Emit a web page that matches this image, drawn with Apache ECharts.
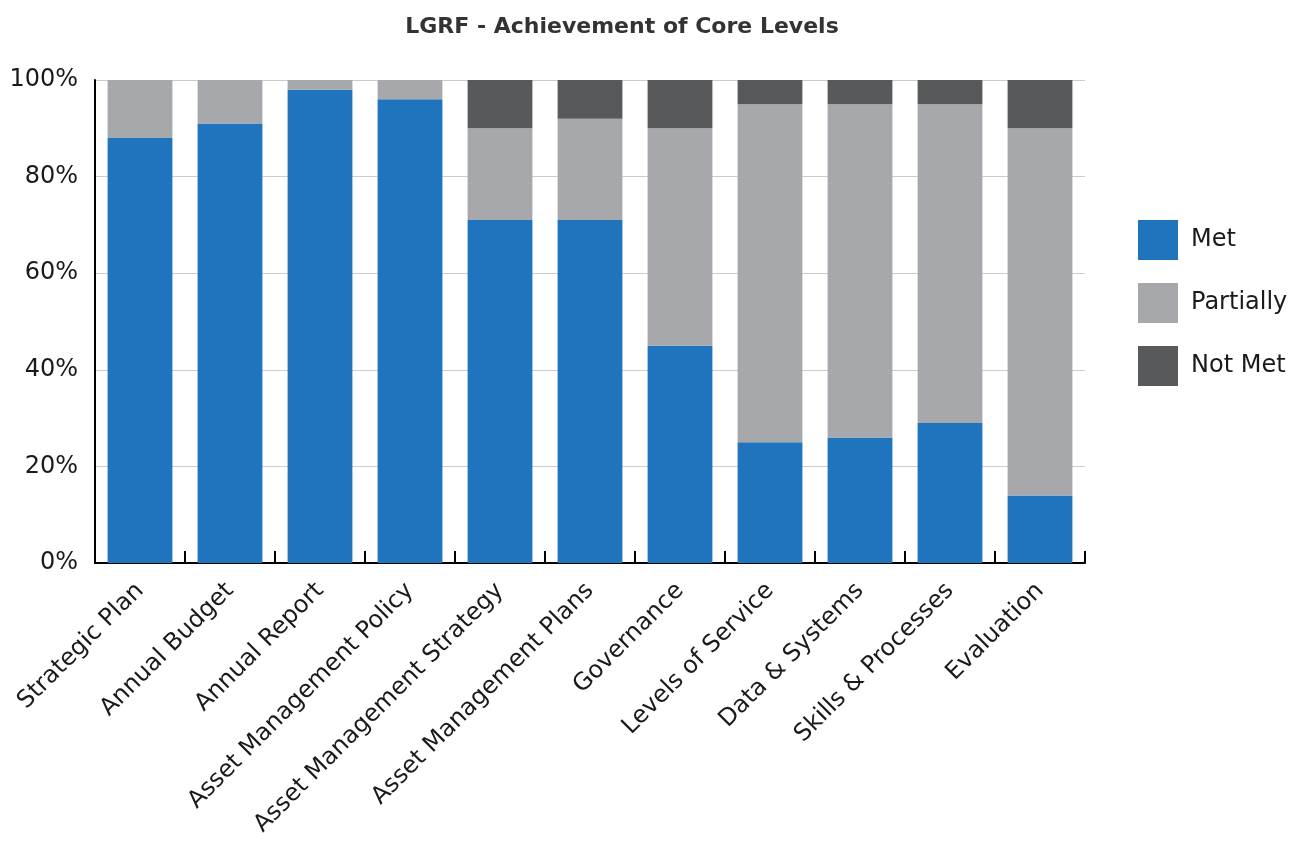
<!DOCTYPE html>
<html>
<head>
<meta charset="utf-8">
<script src="https://cdn.jsdelivr.net/npm/echarts@6/dist/echarts.min.js"></script>
<style>
html,body{margin:0;padding:0;background:#fff;}
#chart{width:1307px;height:844px;}
</style>
</head>
<body>
<div id="chart"></div>
<script>
const categories = ["Strategic Plan","Annual Budget","Annual Report","Asset Management Policy","Asset Management Strategy","Asset Management Plans","Governance","Levels of Service","Data & Systems","Skills & Processes","Evaluation"];
const met = [88, 91, 98, 96, 71, 71, 45, 25, 26, 29, 14];
const partially = [12, 9, 2, 4, 19, 21, 45, 70, 69, 66, 76];
const notMet = [0, 0, 0, 0, 10, 8, 10, 5, 5, 5, 10];
const yTicks = [0, 20, 40, 60, 80, 100];

const FONT = '"DejaVu Sans", "Open Sans", sans-serif';
const chart = echarts.init(document.getElementById('chart'));
chart.setOption({
  animation: false,
  title: {
    text: 'LGRF - Achievement of Core Levels',
    left: 617, top: 11, textAlign: 'center',
    textStyle: { fontFamily: FONT, fontSize: 22, fontWeight: 'bold', color: '#333' }
  },
  legend: {
    orient: 'vertical', left: 1133, top: 215,
    itemWidth: 40, itemHeight: 40, itemGap: 23,
    icon: 'rect',
    textStyle: { fontFamily: FONT, fontSize: 24, color: '#1a1a1a', padding: [0,0,0,8] },
    data: ['Met','Partially','Not Met']
  },
  grid: { left: 95, right: 222, top: 80, bottom: 281, containLabel: false },
  xAxis: {
    type: 'category', data: categories, boundaryGap: true,
    axisLine: { lineStyle: { color: '#000', width: 2 } },
    axisTick: { show: true, inside: true, length: 12, lineStyle: { color: '#000', width: 2 } },
    axisLabel: { interval: 0, rotate: 45, margin: 24, fontFamily: FONT, fontSize: 24, color: '#1a1a1a' }
  },
  yAxis: {
    type: 'value', min: 0, max: 100, interval: 20,
    axisLine: { show: true, lineStyle: { color: '#000', width: 2 } },
    axisTick: { show: false },
    splitLine: { lineStyle: { color: '#cccccc', width: 1 } },
    axisLabel: { margin: 17, fontFamily: FONT, fontSize: 24, color: '#1a1a1a',
      formatter: v => yTicks.includes(v) ? v + '%' : '' }
  },
  series: [
    { name: 'Met', type: 'bar', stack: 's', data: met, barWidth: '72%', itemStyle: { color: '#1f74bd' } },
    { name: 'Partially', type: 'bar', stack: 's', data: partially, barWidth: '72%', itemStyle: { color: '#a7a8ab' } },
    { name: 'Not Met', type: 'bar', stack: 's', data: notMet, barWidth: '72%', itemStyle: { color: '#58595b' } }
  ]
});
</script>
</body>
</html>
